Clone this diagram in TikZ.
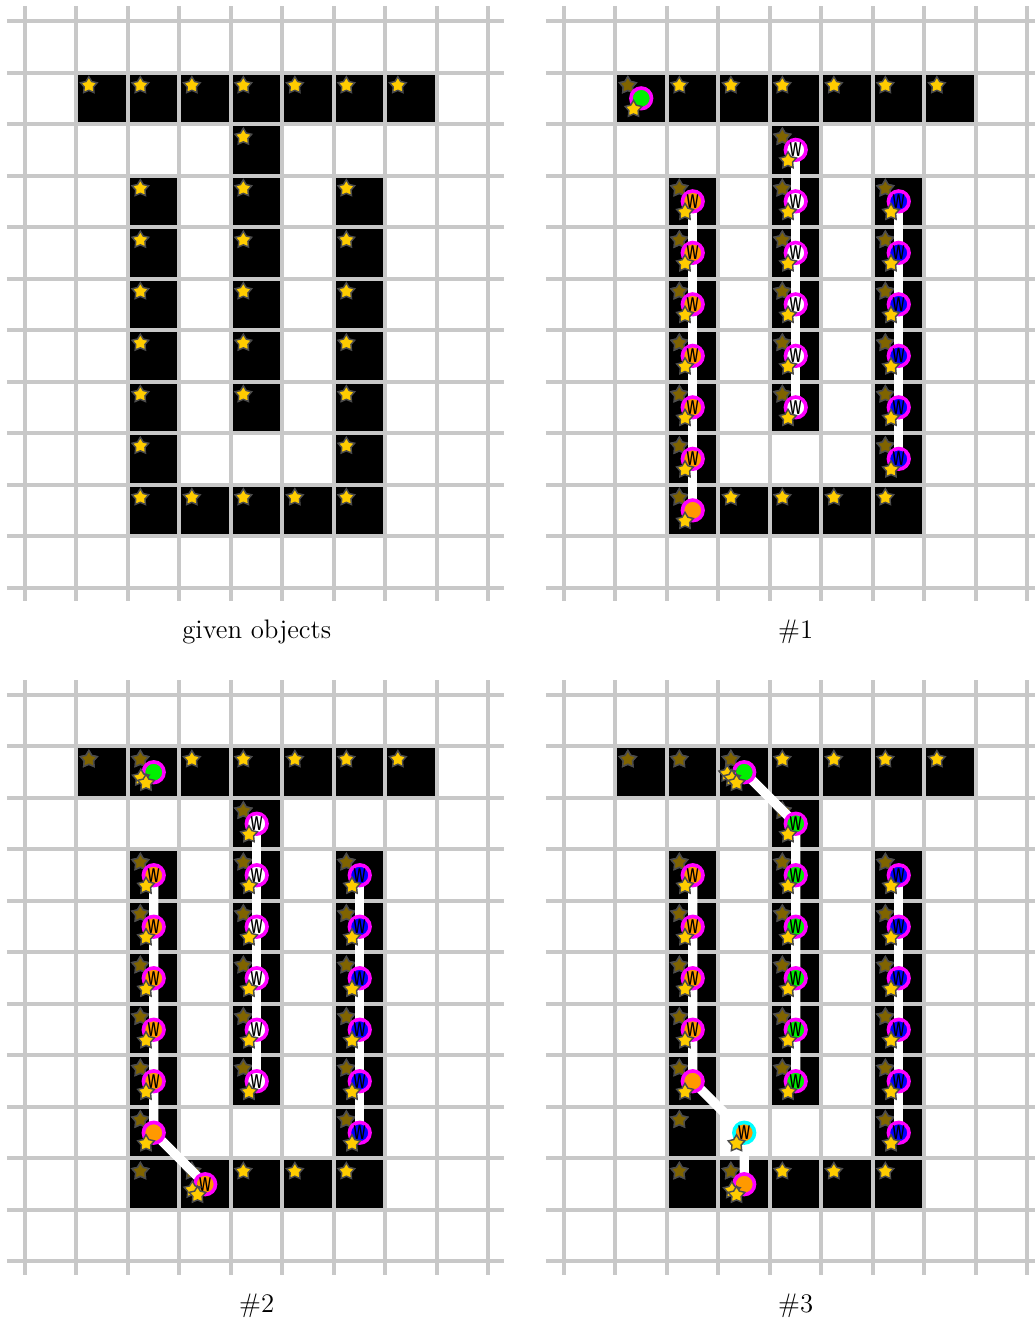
\documentclass[tikz,border=0pt]{standalone}
\usepackage{fontspec}
\usepackage{graphicx}
\usetikzlibrary{shapes.geometric}

\definecolor{stargold}{RGB}{255,204,0}
\definecolor{stardark}{RGB}{128,100,0}
\definecolor{gridgray}{RGB}{200,200,200}
\definecolor{aorange}{RGB}{255,153,0}
\definecolor{agreen}{RGB}{0,240,0}
\definecolor{ablue}{RGB}{0,0,255}
\definecolor{amagenta}{RGB}{255,0,255}
\definecolor{acyan}{RGB}{0,255,255}
\newcommand\wmark{\scalebox{0.58}[1]{W}}

\pgfdeclarelayer{top}
\pgfsetlayers{main,top}

\begin{document}
\begin{tikzpicture}[x=1cm,y=1cm,
  gridline/.style={line width=2.2pt,draw=gridgray},
  goldstar/.style={star,star points=5,star point ratio=1.8,minimum size=0.34cm,
    inner sep=0pt,fill=stargold,draw=black!70,line width=0.8pt},
  darkstar/.style={goldstar,fill=stardark},
  agent/.style={circle,minimum size=0.4cm,inner sep=0pt,line width=2pt,
    draw=amagenta,font=\fontsize{11}{11}\selectfont\sffamily\bfseries},
  bar/.style={line width=0.18cm,white,
    preaction={draw=black!70,transform canvas={shift={(-0.025,-0.025)}}}},
  caption/.style={font=\fontsize{14.8}{18}\selectfont},
  board/.pic={
    \foreach \c/\r in {1/1,2/1,3/1,4/1,5/1,6/1,7/1,4/2,4/3,4/4,4/5,4/6,4/7,
        2/3,2/4,2/5,2/6,2/7,2/8,2/9,6/3,6/4,6/5,6/6,6/7,6/8,6/9,3/9,4/9,5/9}{
      \fill (\c,-\r) rectangle ++(1,-1);
      \node[goldstar] (st\c\r) at (\c+0.24,-\r-0.25) {};
    }
    \foreach \i in {0,...,9} \draw[gridline] (\i,0.29) -- (\i,-11.26);
    \foreach \j in {0,...,11} \draw[gridline] (-0.35,-\j) -- (9.31,-\j);
  }]
\useasboundingbox (0,0) rectangle (20.097,25.67);

% given objects
\begin{scope}[shift={(0.485,25.26)}]
  \pic {board};
  \node[caption] (cap0) at (4.5,-11.86) {given objects};
\end{scope}

% #1
\begin{scope}[shift={(10.951,25.26)}]
  \pic {board};
  \foreach \c/\r in {1/1,4/2,4/3,4/4,4/5,4/6,4/7,2/3,2/4,2/5,2/6,2/7,2/8,2/9,
      6/3,6/4,6/5,6/6,6/7,6/8}
    \node[darkstar] (d\c\r) at (\c+0.24,-\r-0.25) {};
  \begin{pgfonlayer}{top}
    \node[agent,fill=agreen] (h) at (1.5,-1.5) {};
    \foreach \r in {3,...,8} \node[agent,fill=aorange] (o\r) at (2.5,-\r-0.5) {\wmark};
    \node[agent,fill=aorange] (o9) at (2.5,-9.5) {};
    \foreach \r in {2,...,7} \node[agent,fill=white] (w\r) at (4.5,-\r-0.5) {\wmark};
    \foreach \r in {3,...,8} \node[agent,fill=ablue] (b\r) at (6.5,-\r-0.5) {\wmark};
    \foreach \a in {h,o3,o4,o5,o6,o7,o8,o9,w2,w3,w4,w5,w6,w7,b3,b4,b5,b6,b7,b8}
      \node[goldstar] (\a-s) at ([shift={(-0.15,-0.21)}]\a.center) {};
  \end{pgfonlayer}
  \draw[bar] (o3.center) -- (o9.center);
  \draw[bar] (w2.center) -- (w7.center);
  \draw[bar] (b3.center) -- (b8.center);
  \node[caption] (cap1) at (4.5,-11.86) {\#1};
\end{scope}

% #2
\begin{scope}[shift={(0.485,12.175)}]
  \pic {board};
  \foreach \c/\r in {1/1,2/1,4/2,4/3,4/4,4/5,4/6,4/7,2/3,2/4,2/5,2/6,2/7,2/8,2/9,
      3/9,6/3,6/4,6/5,6/6,6/7,6/8}
    \node[darkstar] (d\c\r) at (\c+0.24,-\r-0.25) {};
  \begin{pgfonlayer}{top}
    \node[agent,fill=agreen] (h) at (2.5,-1.5) {};
    \foreach \r in {3,...,7} \node[agent,fill=aorange] (o\r) at (2.5,-\r-0.5) {\wmark};
    \node[agent,fill=aorange] (o8) at (2.5,-8.5) {};
    \node[agent,fill=aorange] (t) at (3.5,-9.5) {\wmark};
    \foreach \r in {2,...,7} \node[agent,fill=white] (w\r) at (4.5,-\r-0.5) {\wmark};
    \foreach \r in {3,...,8} \node[agent,fill=ablue] (b\r) at (6.5,-\r-0.5) {\wmark};
    % stacked stars
    \node[goldstar] (h-s2) at ([shift={(-0.25,-0.11)}]h.center) {};
    \node[goldstar] (t-s2) at ([shift={(-0.25,-0.11)}]t.center) {};
    \foreach \a in {h,t,o3,o4,o5,o6,o7,o8,w2,w3,w4,w5,w6,w7,b3,b4,b5,b6,b7,b8}
      \node[goldstar] (\a-s) at ([shift={(-0.15,-0.21)}]\a.center) {};
  \end{pgfonlayer}
  \draw[bar] (o3.center) -- (o8.center) -- (t.center);
  \draw[bar] (w2.center) -- (w7.center);
  \draw[bar] (b3.center) -- (b8.center);
  \node[caption] (cap2) at (4.5,-11.86) {\#2};
\end{scope}

% #3
\begin{scope}[shift={(10.951,12.175)}]
  \pic {board};
  \foreach \c/\r in {1/1,2/1,3/1,4/2,4/3,4/4,4/5,4/6,4/7,2/3,2/4,2/5,2/6,2/7,2/8,2/9,
      3/9,6/3,6/4,6/5,6/6,6/7,6/8}
    \node[darkstar] (d\c\r) at (\c+0.24,-\r-0.25) {};
  \begin{pgfonlayer}{top}
    \node[agent,fill=agreen] (h) at (3.5,-1.5) {};
    \foreach \r in {2,...,7} \node[agent,fill=agreen] (g\r) at (4.5,-\r-0.5) {\wmark};
    \foreach \r in {3,...,6} \node[agent,fill=aorange] (o\r) at (2.5,-\r-0.5) {\wmark};
    \node[agent,fill=aorange] (o7) at (2.5,-7.5) {};
    \node[agent,fill=aorange,draw=acyan] (c8) at (3.5,-8.5) {\wmark};
    \node[agent,fill=aorange] (t) at (3.5,-9.5) {};
    \foreach \r in {3,...,8} \node[agent,fill=ablue] (b\r) at (6.5,-\r-0.5) {\wmark};
    % stacked stars
    \node[goldstar] (h-s3) at ([shift={(-0.33,-0.03)}]h.center) {};
    \node[goldstar] (h-s2) at ([shift={(-0.24,-0.12)}]h.center) {};
    \node[goldstar] (t-s2) at ([shift={(-0.24,-0.12)}]t.center) {};
    \foreach \a in {h,t,c8,o3,o4,o5,o6,o7,g2,g3,g4,g5,g6,g7,b3,b4,b5,b6,b7,b8}
      \node[goldstar] (\a-s) at ([shift={(-0.15,-0.21)}]\a.center) {};
  \end{pgfonlayer}
  \draw[bar] (h.center) -- (g2.center) -- (g7.center);
  \draw[bar] (o3.center) -- (o7.center) -- (c8.center) -- (t.center);
  \draw[bar] (b3.center) -- (b8.center);
  \node[caption] (cap3) at (4.5,-11.86) {\#3};
\end{scope}
\end{tikzpicture}
\end{document}
